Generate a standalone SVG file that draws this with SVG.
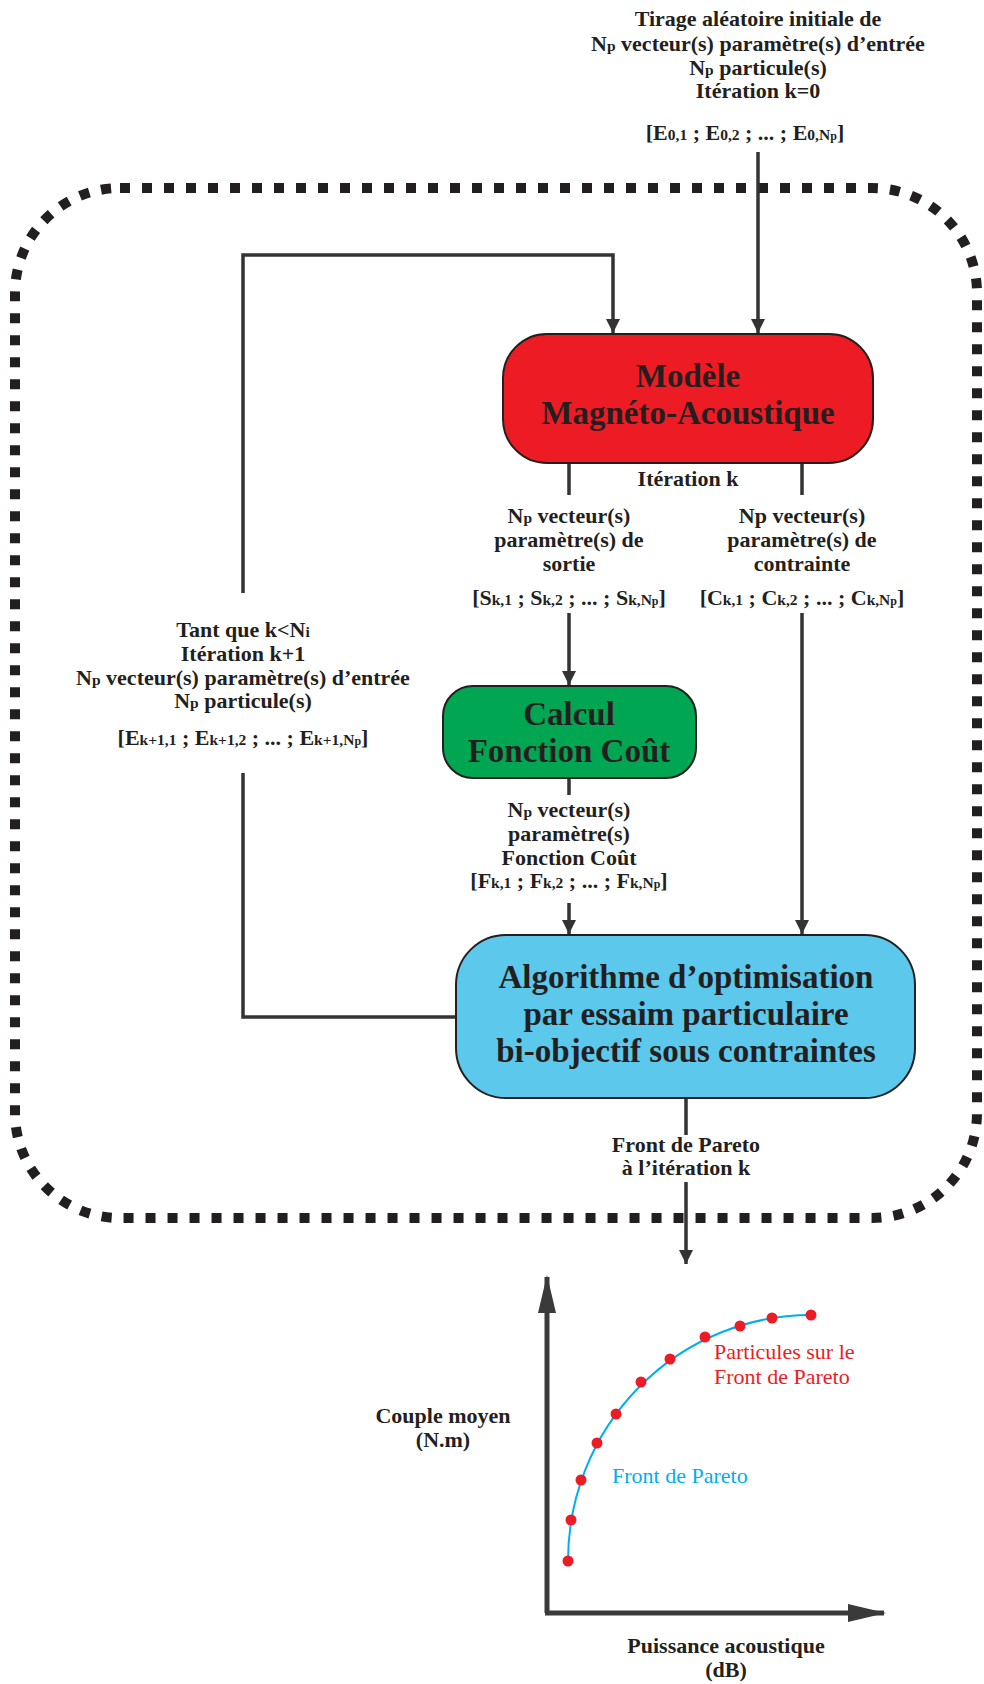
<svg xmlns="http://www.w3.org/2000/svg" width="984" height="1684" viewBox="0 0 984 1684">
<style>
.t{font-family:"Liberation Serif","Times New Roman",serif;font-weight:bold;font-size:22px;fill:#231f20;text-anchor:middle}
.big{font-family:"Liberation Serif","Times New Roman",serif;font-weight:bold;font-size:33px;fill:#231f20;text-anchor:middle}
.s{font-size:15.5px}
.ss{font-size:12px}
.r{font-family:"Liberation Serif","Times New Roman",serif;font-size:22px}
.conn{fill:none;stroke:#333333;stroke-width:3.5}
.box{stroke:#231f20;stroke-width:2}
</style>
<defs>
<marker id="arr" markerUnits="userSpaceOnUse" markerWidth="14" markerHeight="14" refX="14" refY="7" orient="auto">
<path d="M0,0 L14,7 L0,14 z" fill="#333333"/>
</marker>
<marker id="ax" markerUnits="userSpaceOnUse" markerWidth="38" markerHeight="18" refX="36" refY="9" orient="auto">
<path d="M0,0 L38,9 L0,18 z" fill="#3a3a3a"/>
</marker>
</defs>

<rect id="loop-border" x="15" y="188" width="962" height="1030" rx="105" ry="105" fill="none" stroke="#231f20" stroke-width="10" stroke-dasharray="10 12"/>

<g id="connectors">
<path class="conn" d="M758 152 V333" marker-end="url(#arr)"/>
<path class="conn" d="M456 1017 H243 V773"/>
<path class="conn" d="M243 593 V255 H613 V333" marker-end="url(#arr)"/>
<path class="conn" d="M569 463 V495"/>
<path class="conn" d="M569 613 V685" marker-end="url(#arr)"/>
<path class="conn" d="M802 463 V495"/>
<path class="conn" d="M802 613 V934" marker-end="url(#arr)"/>
<path class="conn" d="M569 778 V795"/>
<path class="conn" d="M569 903 V934" marker-end="url(#arr)"/>
<path class="conn" d="M686 1098 V1135"/>
<path class="conn" d="M686 1182 V1264" marker-end="url(#arr)"/>
</g>

<g id="init-label">
<text class="t" x="758" y="26">Tirage aléatoire initiale de</text>
<text class="t" x="758" y="51">N<tspan class="s">p</tspan> vecteur(s) paramètre(s) d’entrée</text>
<text class="t" x="758" y="75">N<tspan class="s">p</tspan> particule(s)</text>
<text class="t" x="758" y="98">Itération k=0</text>
<text class="t" x="745" y="140">[E<tspan class="s">0,1</tspan> ; E<tspan class="s">0,2</tspan> ; ... ; E<tspan class="s">0,N</tspan><tspan class="ss">p</tspan>]</text>
</g>

<g id="modele">
<rect class="box" x="503" y="334" width="370" height="129" rx="44" fill="#ed1c24"/>
<text class="big" x="688" y="387">Modèle</text>
<text class="big" x="688" y="424">Magnéto-Acoustique</text>
</g>

<g id="iter-label">
<text class="t" x="688" y="486">Itération k</text>
</g>

<g id="sortie-label">
<text class="t" x="569" y="523">N<tspan class="s">p</tspan> vecteur(s)</text>
<text class="t" x="569" y="547">paramètre(s) de</text>
<text class="t" x="569" y="571">sortie</text>
<text class="t" x="569" y="605">[S<tspan class="s">k,1</tspan> ; S<tspan class="s">k,2</tspan> ; ... ; S<tspan class="s">k,N</tspan><tspan class="ss">p</tspan>]</text>
</g>

<g id="contrainte-label">
<text class="t" x="802" y="523">Np vecteur(s)</text>
<text class="t" x="802" y="547">paramètre(s) de</text>
<text class="t" x="802" y="571">contrainte</text>
<text class="t" x="802" y="605">[C<tspan class="s">k,1</tspan> ; C<tspan class="s">k,2</tspan> ; ... ; C<tspan class="s">k,N</tspan><tspan class="ss">p</tspan>]</text>
</g>

<g id="calcul">
<rect class="box" x="443" y="686" width="253" height="92" rx="30" fill="#00a651"/>
<text class="big" x="569" y="725">Calcul</text>
<text class="big" x="569" y="762">Fonction Coût</text>
</g>

<g id="cout-label">
<text class="t" x="569" y="817">N<tspan class="s">p</tspan> vecteur(s)</text>
<text class="t" x="569" y="841">paramètre(s)</text>
<text class="t" x="569" y="865">Fonction Coût</text>
<text class="t" x="569" y="888">[F<tspan class="s">k,1</tspan> ; F<tspan class="s">k,2</tspan> ; ... ; F<tspan class="s">k,N</tspan><tspan class="ss">p</tspan>]</text>
</g>

<g id="algo">
<rect class="box" x="456" y="935" width="459" height="163" rx="50" fill="#5bc8ec"/>
<text class="big" x="686" y="988">Algorithme d’optimisation</text>
<text class="big" x="686" y="1025">par essaim particulaire</text>
<text class="big" x="686" y="1062">bi-objectif sous contraintes</text>
</g>

<g id="loop-label">
<text class="t" x="243" y="637">Tant que k&lt;N<tspan class="s">i</tspan></text>
<text class="t" x="243" y="661">Itération k+1</text>
<text class="t" x="243" y="685">N<tspan class="s">p</tspan> vecteur(s) paramètre(s) d’entrée</text>
<text class="t" x="243" y="708">N<tspan class="s">p</tspan> particule(s)</text>
<text class="t" x="243" y="745">[E<tspan class="s">k+1,1</tspan> ; E<tspan class="s">k+1,2</tspan> ; ... ; E<tspan class="s">k+1,N</tspan><tspan class="ss">p</tspan>]</text>
</g>

<g id="pareto-label">
<text class="t" x="686" y="1152">Front de Pareto</text>
<text class="t" x="686" y="1175">à l’itération k</text>
</g>

<g id="graph">
<path d="M547 1613 V1277" fill="none" stroke="#3a3a3a" stroke-width="5" marker-end="url(#ax)"/>
<path d="M545 1613 H884" fill="none" stroke="#3a3a3a" stroke-width="5" marker-end="url(#ax)"/>
<path d="M568 1561 A243 246 0 0 1 811 1315" fill="none" stroke="#00aeef" stroke-width="2"/>
<g fill="#ed1c24">
<circle cx="568" cy="1561" r="5.5"/>
<circle cx="571" cy="1520" r="5.5"/>
<circle cx="581" cy="1480" r="5.5"/>
<circle cx="597" cy="1443" r="5.5"/>
<circle cx="616" cy="1414" r="5.5"/>
<circle cx="641" cy="1382" r="5.5"/>
<circle cx="670" cy="1359" r="5.5"/>
<circle cx="705" cy="1337" r="5.5"/>
<circle cx="740" cy="1326" r="5.5"/>
<circle cx="772" cy="1318" r="5.5"/>
<circle cx="811" cy="1315" r="5.5"/>
</g>
<text class="r" x="714" y="1359" fill="#ed1c24">Particules sur le</text>
<text class="r" x="714" y="1384" fill="#ed1c24">Front de Pareto</text>
<text class="r" x="612" y="1483" fill="#00aeef">Front de Pareto</text>
<text class="t" x="443" y="1423">Couple moyen</text>
<text class="t" x="443" y="1447">(N.m)</text>
<text class="t" x="726" y="1653">Puissance acoustique</text>
<text class="t" x="726" y="1677">(dB)</text>
</g>
</svg>
